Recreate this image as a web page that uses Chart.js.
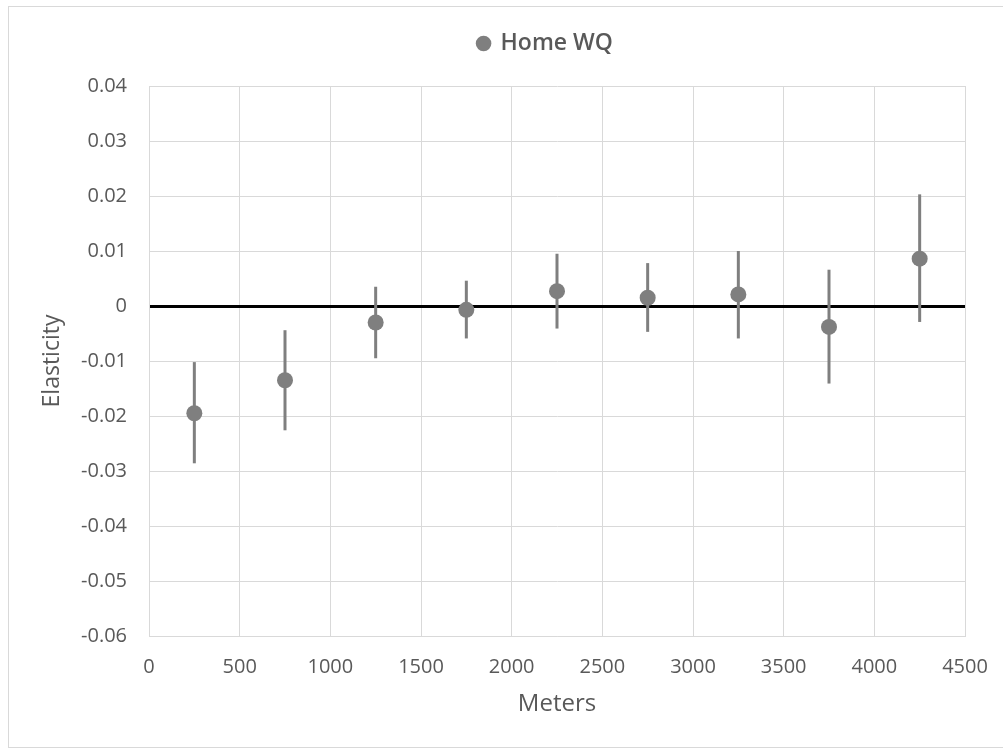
<!DOCTYPE html>
<html>
<head>
<meta charset="utf-8">
<script src="https://cdn.jsdelivr.net/npm/chart.js@4/dist/chart.umd.min.js"></script>
<style>
    body { margin: 0; background: #fff; }
    #wrap { position: relative; width: 1003px; height: 751px; }
    #frame { position: absolute; left: 8px; top: 6px; width: 996px; height: 742px; border: 1px solid #d9d9d9; box-sizing: border-box; }
    canvas { position: absolute; left: 0; top: 0; }
</style>
</head>
<body>
<div id="wrap">
    <div id="frame"></div>
    <canvas id="chart" width="1003" height="751"></canvas>
</div>
<script>
var meters = [250, 750, 1250, 1750, 2250, 2750, 3250, 3750, 4250];
var elasticity = [-0.0195, -0.0135, -0.0030, -0.0007, 0.0027, 0.0015, 0.0021, -0.0038, 0.0086];
var upper = [-0.0102, -0.0044, 0.0035, 0.0046, 0.0095, 0.0078, 0.0100, 0.0066, 0.0203];
var lower = [-0.0286, -0.0226, -0.0095, -0.0059, -0.0041, -0.0047, -0.0059, -0.0141, -0.0029];

var xTicks = [0, 500, 1000, 1500, 2000, 2500, 3000, 3500, 4000, 4500];
var yTicks = [0.04, 0.03, 0.02, 0.01, 0, -0.01, -0.02, -0.03, -0.04, -0.05, -0.06];

var grey = "#7f7f7f";
var fontName = "'Open Sans', 'DejaVu Sans', sans-serif";

var points = meters.map(function (m, i) {
    return { x: m, y: elasticity[i] };
});

// vertical error bars, drawn through the chart scales
var errorBars = {
    id: "errorBars",
    beforeDatasetsDraw: function (chart) {
        var ctx = chart.ctx;
        var x = chart.scales.x;
        var y = chart.scales.y;
        ctx.save();
        ctx.strokeStyle = grey;
        ctx.lineWidth = 3;
        for (var i = 0; i < meters.length; i++) {
            var px = x.getPixelForValue(meters[i]);
            ctx.beginPath();
            ctx.moveTo(px, y.getPixelForValue(upper[i]));
            ctx.lineTo(px, y.getPixelForValue(lower[i]));
            ctx.stroke();
        }
        ctx.restore();
    }
};

// fixed legend box
var legendBox = {
    id: "legendBox",
    afterInit: function (chart) {
        var lg = chart.legend;
        var fit = lg.fit.bind(lg);
        lg.fit = function () {
            fit();
            this.height = 64;
        };
    },
    afterLayout: function (chart) {
        var lg = chart.legend;
        lg.left = 126;
        lg.width = lg.right - lg.left;
    }
};

new Chart(document.getElementById("chart"), {
    type: "scatter",
    data: {
        datasets: [{
            label: "Home WQ",
            data: points,
            backgroundColor: grey,
            borderColor: grey,
            pointRadius: 8,
            pointHoverRadius: 8,
            borderWidth: 0
        }]
    },
    options: {
        responsive: false,
        animation: false,
        layout: { padding: { left: 8, right: 38, top: 22, bottom: 0 } },
        plugins: {
            legend: {
                position: "top",
                labels: {
                    usePointStyle: true,
                    pointStyle: "circle",
                    boxWidth: 11,
                    boxHeight: 11,
                    padding: 10,
                    color: "#595959",
                    font: { family: fontName, size: 23, weight: "600" }
                }
            },
            tooltip: { enabled: false }
        },
        scales: {
            x: {
                type: "linear",
                min: 0,
                max: 4500,
                afterBuildTicks: function (scale) {
                    scale.ticks = xTicks.map(function (v) { return { value: v }; });
                },
                afterFit: function (scale) {
                    scale.height = 115;
                    scale.paddingRight = 0;
                },
                grid: { color: "#d9d9d9", lineWidth: 1, drawTicks: false },
                border: { color: "#d9d9d9" },
                ticks: {
                    padding: 19,
                    color: "#595959",
                    font: { family: fontName, size: 20 },
                    callback: function (v) { return String(v); }
                },
                title: {
                    display: true,
                    text: "Meters",
                    color: "#595959",
                    padding: { top: 0, bottom: 32 },
                    font: { family: fontName, size: 24 }
                }
            },
            y: {
                type: "linear",
                min: -0.06,
                max: 0.04,
                afterBuildTicks: function (scale) {
                    scale.ticks = yTicks.map(function (v) { return { value: v }; });
                },
                afterFit: function (scale) {
                    scale.width = 141;
                },
                grid: {
                    drawTicks: false,
                    color: function (c) { return c.tick && c.tick.value === 0 ? "#000" : "#d9d9d9"; },
                    lineWidth: function (c) { return c.tick && c.tick.value === 0 ? 3 : 1; }
                },
                border: { color: "#d9d9d9" },
                ticks: {
                    padding: 22,
                    color: "#595959",
                    font: { family: fontName, size: 20 },
                    callback: function (v) { return String(Math.round(v * 100) / 100); }
                },
                title: {
                    display: true,
                    text: "Elasticity",
                    color: "#595959",
                    padding: { top: 31, bottom: 0 },
                    font: { family: fontName, size: 23 }
                }
            }
        }
    },
    plugins: [errorBars, legendBox]
});
</script>
</body>
</html>
